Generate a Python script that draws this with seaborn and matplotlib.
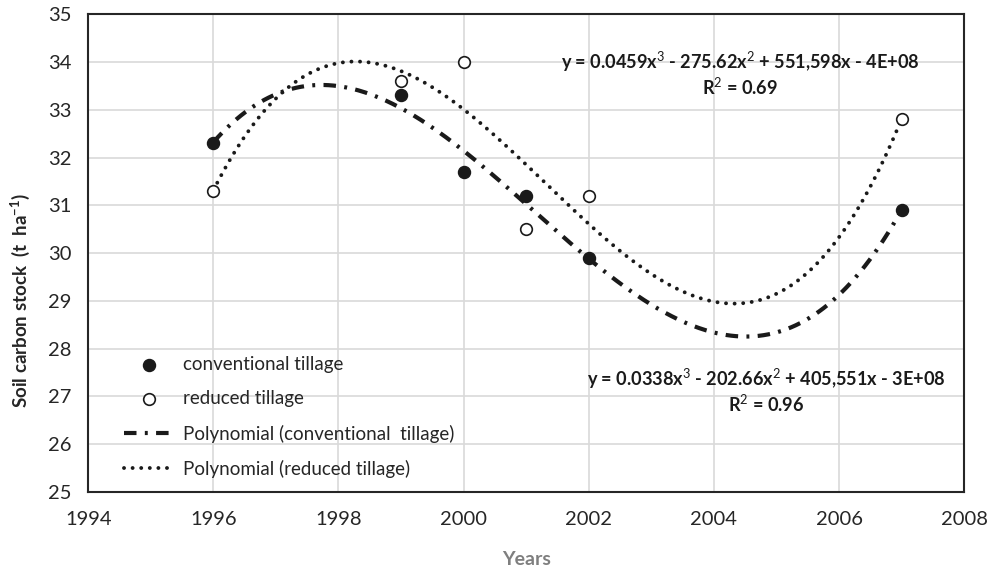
import numpy as np
import pandas as pd
import matplotlib
matplotlib.use("Agg")
import matplotlib.pyplot as plt
import seaborn as sns

# data
years = [1996, 1999, 2000, 2001, 2002, 2007]
conventional = [32.3, 33.3, 31.7, 31.2, 29.9, 30.9]
reduced = [31.3, 33.6, 34.0, 30.5, 31.2, 32.8]

eq_conv = "y = 0.0338x$^{3}$ - 202.66x$^{2}$ + 405,551x - 3E+08\nR$^{2}$ = 0.96"
eq_red = "y = 0.0459x$^{3}$ - 275.62x$^{2}$ + 551,598x - 4E+08\nR$^{2}$ = 0.69"

sns.set_theme(style="white")
plt.rcParams['font.family'] = ['Lato', 'DejaVu Sans']
plt.rcParams['mathtext.fontset'] = 'custom'
plt.rcParams['mathtext.rm'] = 'Lato'
plt.rcParams['mathtext.bf'] = 'Lato:bold'

df = pd.DataFrame({'year': years, 'conv': conventional, 'red': reduced})

# 3rd order polynomial trendlines (same as Excel)
xs = np.linspace(1996, 2007, 300)
p_conv = np.polynomial.Polynomial.fit(df['year'], df['conv'], 3)
p_red = np.polynomial.Polynomial.fit(df['year'], df['red'], 3)
trend = pd.DataFrame({'year': xs, 'conv': p_conv(xs), 'red': p_red(xs)})

fig, ax = plt.subplots(figsize=(9.91, 5.68), dpi=100)
fig.subplots_adjust(left=0.089, right=0.973, top=0.975, bottom=0.134)

sns.lineplot(data=trend, x='year', y='conv', ax=ax, color='#1a1a1a', lw=3.0,
             linestyle=(0, (3.0, 2.0, 0.7, 2.0)), dash_capstyle='butt',
             label='Polynomial (conventional  tillage)', zorder=3)
sns.lineplot(data=trend, x='year', y='red', ax=ax, color='#1a1a1a', lw=2.8,
             linestyle=(0, (0.01, 2.2)), dash_capstyle='round',
             label='Polynomial (reduced tillage)', zorder=3)
sns.scatterplot(data=df, x='year', y='conv', ax=ax, s=75, color='#1a1a1a',
                edgecolor='#1a1a1a', linewidth=1, label='conventional tillage', zorder=4)
sns.scatterplot(data=df, x='year', y='red', ax=ax, s=70, facecolor='white',
                edgecolor='#1a1a1a', linewidth=1.2, label='reduced tillage', zorder=4)

ax.set_xlim(1994, 2008)
ax.set_ylim(25, 35)
ax.set_xticks(range(1994, 2009, 2))
ax.set_yticks(range(25, 36))
ax.grid(True, color='#d9d9d9', lw=1.2)
ax.set_axisbelow(True)
for s in ax.spines.values():
    s.set_color('#262626')
    s.set_linewidth(1.5)
ax.tick_params(labelsize=14.5, colors='#262626', length=0)
ax.tick_params(axis='x', pad=14)
ax.tick_params(axis='y', pad=12)

ax.set_xlabel('Years', fontsize=14, fontweight='bold', color='#7f7f7f', labelpad=16)
ax.set_ylabel('Soil carbon stock  (t  ha$^{\\mathbf{-1}}$)', fontsize=13.5,
              fontweight='bold', color='#262626')
ax.yaxis.set_label_coords(-0.064, 0.40)

ax.text(2004.42, 33.77, eq_red, ha='center', va='center', fontsize=13.1,
        fontweight='bold', color='#1a1a1a', linespacing=1.1)
ax.text(2004.84, 27.13, eq_conv, ha='center', va='center', fontsize=13.1,
        fontweight='bold', color='#1a1a1a', linespacing=1.1)

h, l = ax.get_legend_handles_labels()
order = [2, 3, 0, 1]
ax.legend([h[i] for i in order], [l[i] for i in order], loc='lower left',
          bbox_to_anchor=(0.025, 0.0), frameon=False, fontsize=13.5,
          handlelength=2.7, handletextpad=0.45, labelspacing=0.92, borderaxespad=0.35)

fig.savefig('out.png', dpi=100)
